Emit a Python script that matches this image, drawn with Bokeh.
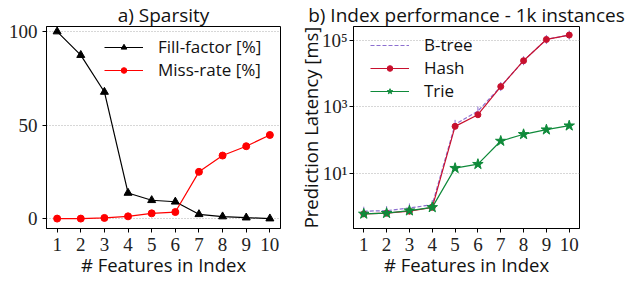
from bokeh.plotting import figure
from bokeh.layouts import row
from bokeh.models import FixedTicker, Range1d, Legend, LegendItem
from bokeh.embed import file_html
from bokeh.resources import INLINE

# ---- data ----
features = [1, 2, 3, 4, 5, 6, 7, 8, 9, 10]
fill_factor = [100, 87.4, 67.7, 13.7, 9.8, 9.0, 2.3, 1.1, 0.5, 0.0]
miss_rate = [0.0, 0.0, 0.35, 1.2, 2.8, 3.5, 25.0, 33.7, 38.7, 44.7]
btree = [0.71, 0.74, 0.89, 1.12, 295, 741, 4070, 24500, 107000, 145000]
hash_ = [0.59, 0.62, 0.71, 0.93, 257, 575, 4070, 24500, 107000, 145000]
trie = [0.59, 0.62, 0.74, 0.93, 14.1, 18.6, 93, 148, 204, 269]
left_yticks = [0, 50, 100]
right_yticks = [10, 1000, 100000]
right_ylabels = {10: "10¹", 1000: "10³", 100000: "10⁵"}

SANS = "Open Sans"
SERIF = "Liberation Serif"


def style(p, title):
    p.title.text = title
    p.title.align = "center"
    p.title.text_font = SANS
    p.title.text_font_size = "19px"
    p.title.text_font_style = "normal"
    p.title.text_color = "#111111"
    p.title.standoff = -2
    p.outline_line_color = "black"
    p.outline_line_width = 1
    p.outline_line_alpha = 1
    p.xgrid.grid_line_color = None
    p.ygrid.grid_line_color = "#9a9a9a"
    p.ygrid.grid_line_dash = "1 2"
    p.ygrid.grid_line_width = 0.8
    for ax in (p.xaxis[0], p.yaxis[0]):
        ax.axis_line_color = "black"
        ax.major_tick_line_color = "black"
        ax.major_tick_out = 4
        ax.major_tick_in = 0
        ax.minor_tick_line_color = None
        ax.major_label_text_font = SERIF
        ax.major_label_text_font_size = "19px"
        ax.major_label_text_color = "#222222"
        ax.axis_label_text_font = SANS
        ax.axis_label_text_font_size = "18.5px"
        ax.axis_label_text_font_style = "normal"
        ax.axis_label_text_color = "#111111"
    p.xaxis[0].ticker = FixedTicker(ticks=features)
    p.xaxis[0].major_label_standoff = 5
    p.xaxis[0].axis_label_standoff = -2
    p.xaxis[0].axis_label = "# Features in Index"


def legend(items, x, y):
    return Legend(items=items, location=(x, y), border_line_color=None,
                  background_fill_alpha=0, padding=0, margin=0, spacing=-2,
                  glyph_width=39, glyph_height=14, label_height=20,
                  label_standoff=15, label_text_font=SANS,
                  label_text_font_size="17px", label_text_color="#111111")


# ---- left panel ----
p1 = figure(width=292, height=282, output_backend="svg", toolbar_location=None,
            x_range=Range1d(0.55, 10.45), y_range=Range1d(-5.3, 102.7),
            min_border_left=46, min_border_right=12, min_border_top=25,
            min_border_bottom=54)
style(p1, "a) Sparsity")
p1.yaxis[0].ticker = FixedTicker(ticks=left_yticks)
p1.yaxis[0].major_label_standoff = 5

r_ff = p1.line(features, fill_factor, line_color="black", line_width=1.2)
s_ff = p1.scatter(features, fill_factor, marker="triangle", size=8,
                  color="black")
r_mr = p1.line(features, miss_rate, line_color="#ff0000", line_width=1.2)
s_mr = p1.scatter(features, miss_rate, marker="circle", size=7,
                  color="#ff0000")

p1.add_layout(legend([LegendItem(label="Fill-factor [%]", renderers=[r_ff, s_ff]),
                      LegendItem(label="Miss-rate [%]", renderers=[r_mr, s_mr])],
                     58, 147), "center")

# ---- right panel ----
p2 = figure(width=336, height=282, output_backend="svg", toolbar_location=None,
            y_axis_type="log",
            x_range=Range1d(0.55, 10.45), y_range=Range1d(0.214, 263000),
            min_border_left=61, min_border_right=49, min_border_top=25,
            min_border_bottom=54)
style(p2, "b) Index performance - 1k instances")
p2.yaxis[0].ticker = FixedTicker(ticks=right_yticks)
p2.yaxis[0].major_label_overrides = right_ylabels
p2.yaxis[0].major_label_standoff = 2
p2.yaxis[0].axis_label = "Prediction Latency [ms]"
p2.yaxis[0].axis_label_standoff = -4

r_bt = p2.line(features, btree, line_color="#8c6fd0", line_width=1.2,
               line_dash="4 2")
s_bt = p2.scatter(features, btree, marker="dash", angle=1.5708, size=9,
                  line_color="#8c6fd0")
r_h = p2.line(features, hash_, line_color="#c8102e", line_width=1.2)
s_h = p2.scatter(features, hash_, marker="circle", size=6, color="#c8102e")
r_t = p2.line(features, trie, line_color="#0f8a3a", line_width=1.2)
s_t = p2.scatter(features, trie, marker="star", size=11, color="#0f8a3a")

p2.add_layout(legend([LegendItem(label="B-tree", renderers=[r_bt]),
                      LegendItem(label="Hash", renderers=[r_h, s_h]),
                      LegendItem(label="Trie", renderers=[r_t, s_t])],
                     17, 126), "center")

layout = row(p1, p2)
open("out.html", "w").write(file_html(layout, INLINE))
